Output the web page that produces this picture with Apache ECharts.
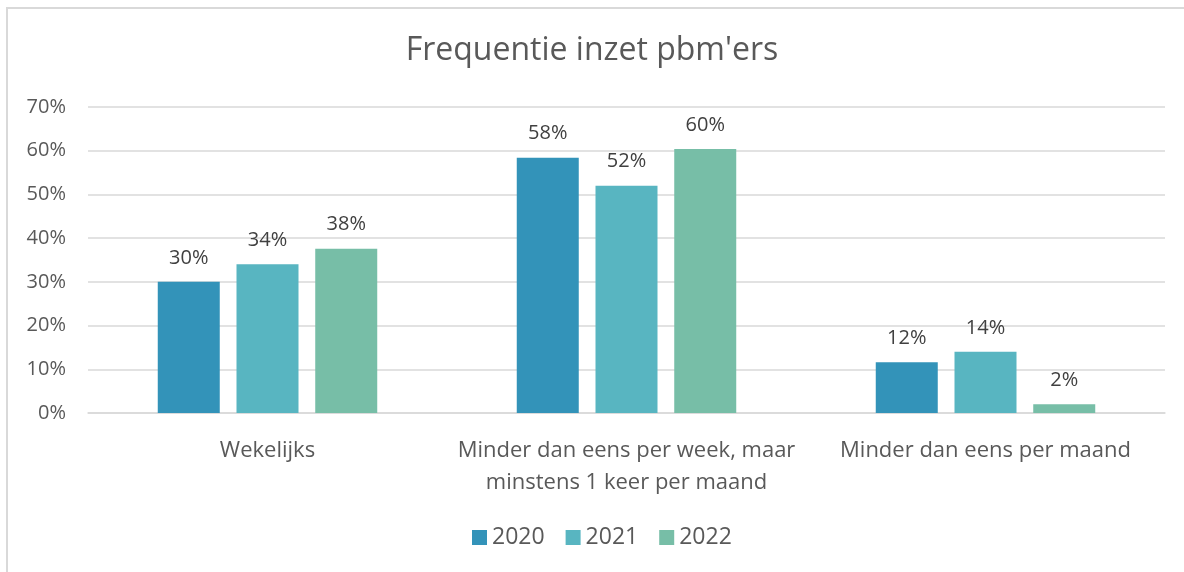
<!DOCTYPE html>
<html lang="nl">
<head>
  <meta charset="UTF-8">
  <script src="https://cdn.jsdelivr.net/npm/echarts@6/dist/echarts.min.js"></script>
  <title>Frequentie inzet pbm'ers</title>
  <style>
    html, body { margin: 0; padding: 0; background: #fff; overflow: hidden; }
    #frame { position: absolute; left: 6px; top: 7px; width: 1200px; height: 600px; border: 2px solid #d9d9d9; box-sizing: border-box; }
    #chart { position: absolute; left: 0; top: 0; width: 1184px; height: 572px; }
  </style>
</head>
<body>
  <div id="frame"></div>
  <div id="chart"></div>
  <script>
    const categories = ['Wekelijks', 'Minder dan eens per week, maar\nminstens 1 keer per maand', 'Minder dan eens per maand']
    const years = ['2020', '2021', '2022']
    const values2020 = [30.0, 58.4, 11.6]
    const values2021 = [34.0, 52.0, 14.0]
    const values2022 = [37.6, 60.4, 2.0]
    const colors = ['#3393b9', '#58b5c1', '#77bea7']

    const chart = echarts.init(document.getElementById('chart'))
    const font = 'Open Sans'
    const seriesData = [values2020, values2021, values2022]

    chart.setOption({
      animation: false,
      title: {
        text: "Frequentie inzet pbm'ers",
        left: 'center',
        top: 30,
        textStyle: { fontFamily: font, fontSize: 32, fontWeight: 'normal', color: '#595959' }
      },
      legend: {
        data: years,
        bottom: 18,
        left: 467,
        itemWidth: 15,
        itemHeight: 15,
        itemGap: 21,
        icon: 'rect',
        textStyle: { fontFamily: font, fontSize: 23, color: '#595959' }
      },
      grid: { left: 88, right: 19, top: 107, bottom: 159 },
      xAxis: {
        type: 'category',
        data: categories,
        axisLine: { lineStyle: { color: '#d9d9d9', width: 1.5 } },
        axisTick: { show: false },
        axisLabel: { interval: 0, fontFamily: font, fontSize: 22, color: '#595959', margin: 22, lineHeight: 32 }
      },
      yAxis: {
        type: 'value',
        min: 0,
        max: 70,
        interval: 10,
        axisLine: { show: false },
        axisTick: { show: false },
        splitLine: { lineStyle: { color: '#d9d9d9', width: 1.5 } },
        axisLabel: { fontFamily: font, fontSize: 20, color: '#595959', margin: 22, formatter: '{value}%' }
      },
      series: years.map((y, i) => ({
        name: y,
        type: 'bar',
        data: seriesData[i],
        barWidth: 62,
        barGap: '27%',
        itemStyle: { color: colors[i] },
        label: {
          show: true,
          position: 'top',
          distance: 14,
          fontFamily: font,
          fontSize: 20,
          color: '#404040',
          formatter: p => Math.round(p.value) + '%'
        }
      }))
    })
  </script>
</body>
</html>
